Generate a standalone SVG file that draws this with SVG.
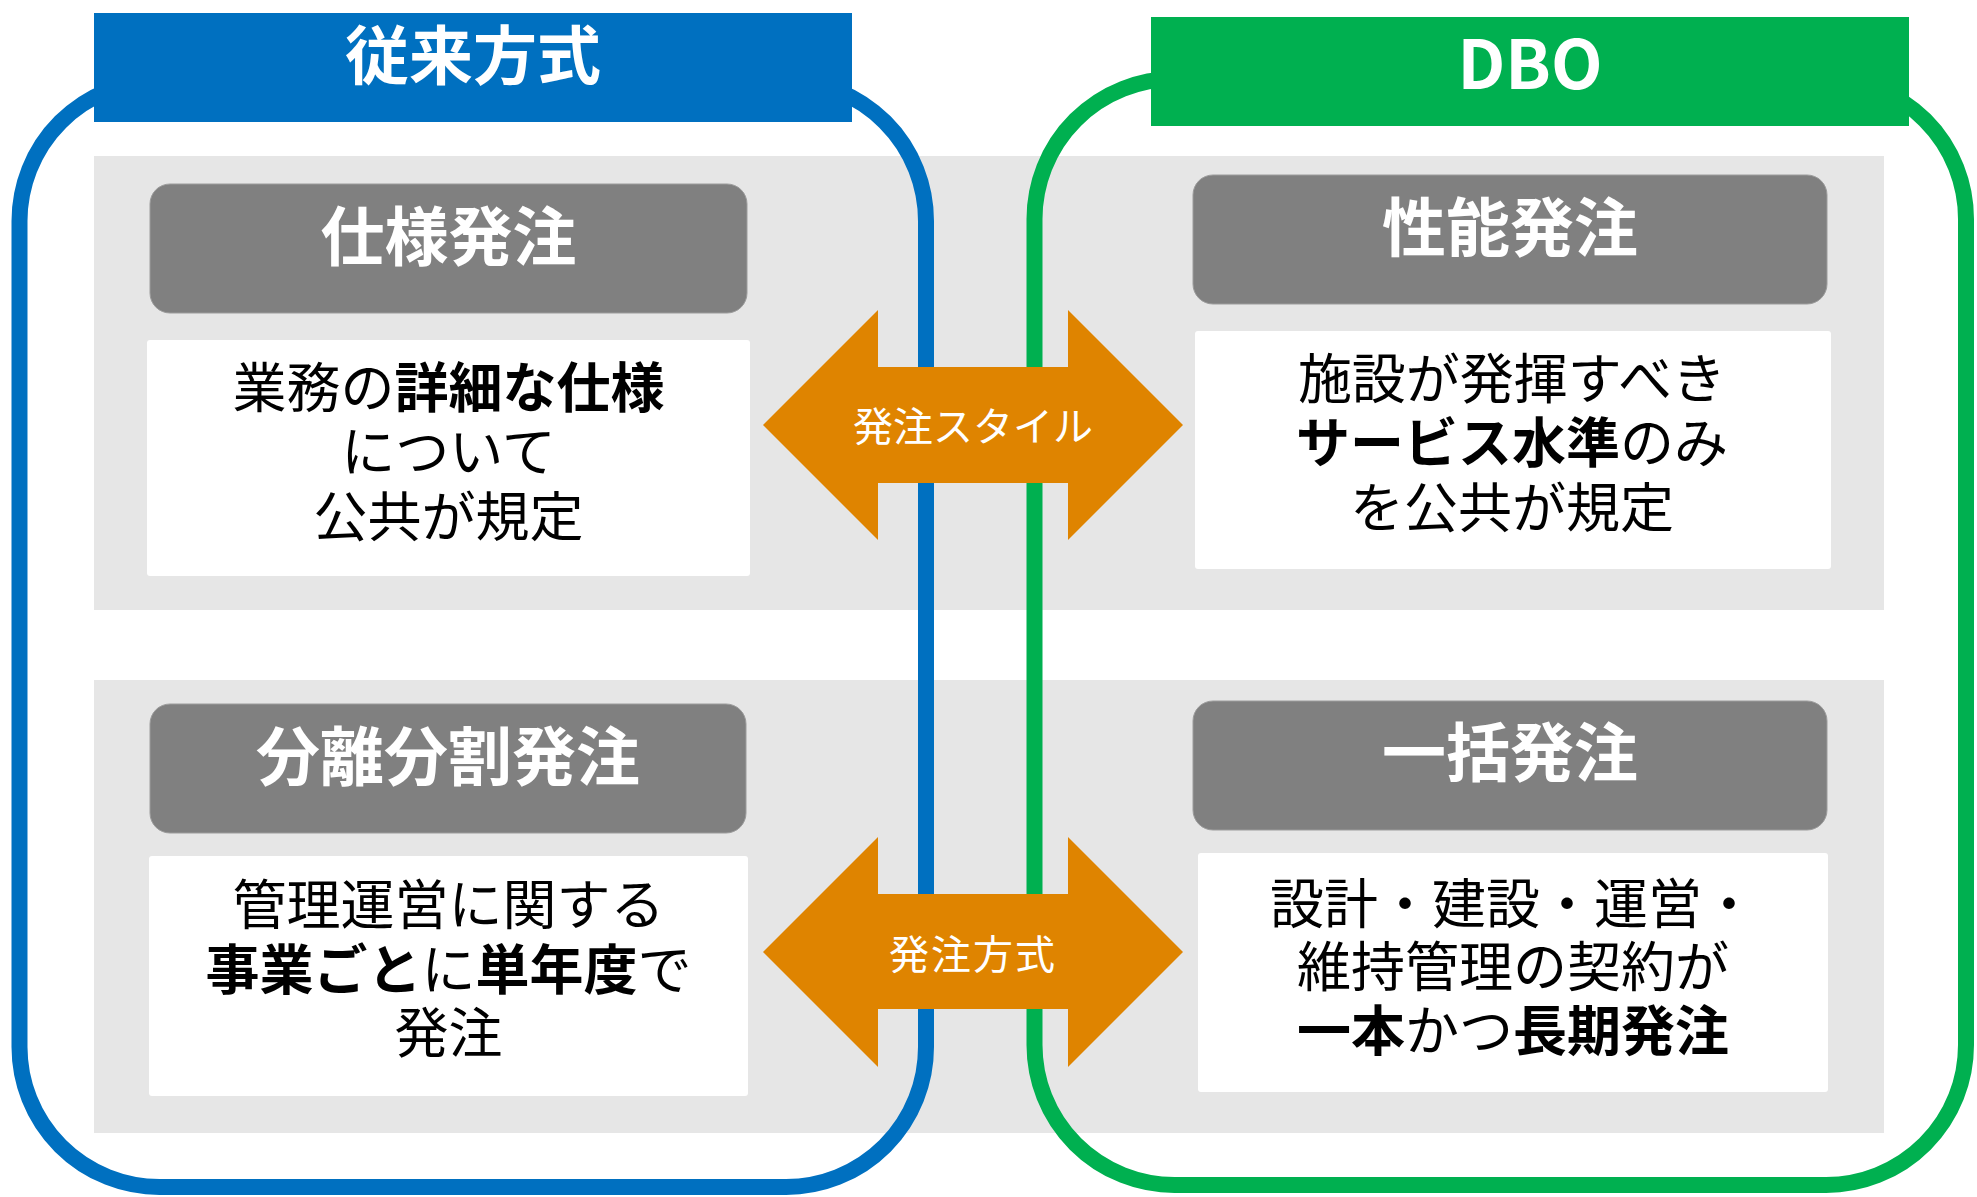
<svg xmlns="http://www.w3.org/2000/svg" width="1977" height="1197" viewBox="0 0 1977 1197">
<defs>
<style>
.bg{fill:#E6E6E6}
.outline{fill:none;stroke-width:16}
.ttl{fill:#808080;stroke:#9C9C9C;stroke-width:1}
.card{fill:#FFFFFF}
.arrow{fill:#DF8400}
text{font-family:"Noto Sans CJK JP","Noto Sans",sans-serif;text-anchor:middle}
.hdr{font-size:64px;font-weight:700;fill:#FFFFFF}
.ttxt{font-size:64px;font-weight:700;fill:#FFFFFF}
.body{font-size:54px;font-weight:400;fill:#000000}
.b{font-weight:700}
.atxt{font-size:40px;font-weight:400;fill:#FFFFFF}
</style>
</defs>
<rect width="1977" height="1197" fill="#FFFFFF"/>
<g id="backgrounds">
<rect class="bg" x="94" y="156" width="1790" height="454"/>
<rect class="bg" x="94" y="680" width="1790" height="453"/>
</g>
<g id="group-traditional">
<rect class="outline" x="19.5" y="81" width="906.5" height="1106" rx="140" ry="140" stroke="#0070C0"/>
<rect x="94" y="13" width="758" height="109" fill="#0070C0"/>
<text class="hdr" x="473" y="79">従来方式</text>
</g>
<g id="group-dbo">
<rect class="outline" x="1034.5" y="79" width="931.5" height="1106" rx="140" ry="140" stroke="#00B050"/>
<rect x="1151" y="17" width="758" height="109" fill="#00B050"/>
<text class="hdr" x="1530" y="89" style="font-size:67px">DBO</text>
</g>
<g id="node-shiyou">
<rect class="ttl" x="150" y="184" width="597" height="129" rx="20"/>
<text class="ttxt" x="448.5" y="260">仕様発注</text>
<rect class="card" x="147" y="340" width="603" height="236" rx="3"/>
<text class="body" x="448.5" y="408">業務の<tspan class="b">詳細な仕様</tspan></text>
<text class="body" x="448.5" y="472">について</text>
<text class="body" x="448.5" y="537">公共が規定</text>
</g>
<g id="node-seinou">
<rect class="ttl" x="1193" y="175" width="634" height="129" rx="20"/>
<text class="ttxt" x="1510" y="251">性能発注</text>
<rect class="card" x="1195" y="331" width="636" height="238" rx="3"/>
<text class="body" x="1512" y="399">施設が発揮すべき</text>
<text class="body" x="1512" y="463"><tspan class="b">サービス水準</tspan>のみ</text>
<text class="body" x="1512" y="528">を公共が規定</text>
</g>
<g id="node-bunri">
<rect class="ttl" x="150" y="704" width="596" height="129" rx="20"/>
<text class="ttxt" x="448" y="780">分離分割発注</text>
<rect class="card" x="149" y="856" width="599" height="240" rx="3"/>
<text class="body" x="448.5" y="925">管理運営に関する</text>
<text class="body" x="448.5" y="990"><tspan class="b">事業ごと</tspan>に<tspan class="b">単年度</tspan>で</text>
<text class="body" x="448.5" y="1053">発注</text>
</g>
<g id="node-ikkatsu">
<rect class="ttl" x="1193" y="701" width="634" height="129" rx="20"/>
<text class="ttxt" x="1510" y="776">一括発注</text>
<rect class="card" x="1198" y="853" width="630" height="239" rx="3"/>
<text class="body" x="1513" y="924">設計・建設・運営・</text>
<text class="body" x="1513" y="987">維持管理の契約が</text>
<text class="body" x="1513" y="1051"><tspan class="b">一本</tspan>かつ<tspan class="b">長期発注</tspan></text>
</g>
<g id="connectors">
<g id="arrow-style">
<polygon class="arrow" points="763,425 878,310 878,367 1068,367 1068,310 1183,425 1068,540 1068,483 878,483 878,540"/>
<text class="atxt" x="973" y="441">発注スタイル</text>
</g>
<g id="arrow-method">
<polygon class="arrow" points="763,952 878,837 878,894 1068,894 1068,837 1183,952 1068,1067 1068,1009 878,1009 878,1067"/>
<text class="atxt" x="973" y="969" style="letter-spacing:2px">発注方式</text>
</g>
</g>
</svg>
